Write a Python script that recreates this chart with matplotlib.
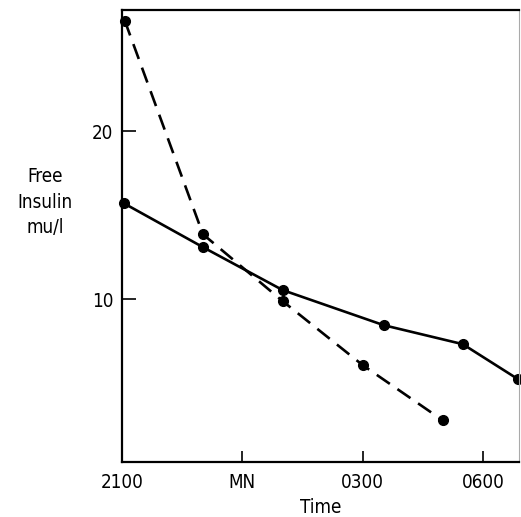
import matplotlib
matplotlib.use("Agg")
import matplotlib.pyplot as plt

# hours after 2100 and free insulin (mu/l)
dashed_t = [0.07, 2.02, 4.01, 6.01, 8.0]
dashed_v = [26.6, 13.87, 9.88, 6.06, 2.78]
solid_t = [0.05, 2.02, 4.01, 6.53, 8.5, 9.88]
solid_v = [15.71, 13.1, 10.54, 8.45, 7.32, 5.23]

xticks = [0, 3, 6, 9]
xlabels = ["2100", "MN", "0300", "0600"]
yticks = [10, 20]

plt.rcParams['font.family'] = ['DejaVu Sans']
plt.rcParams['font.stretch'] = 'condensed'

fig = plt.figure(figsize=(5.21, 5.17), dpi=100)
ax = fig.add_axes([0.234, 0.1064, 0.762, 0.8743])

ax.plot(solid_t, solid_v, '-', color='black', lw=1.9, marker='o', ms=7, clip_on=False)
ax.plot(dashed_t, dashed_v, '--', color='black', lw=1.9, marker='o', ms=7,
        dashes=(6, 3.5), clip_on=False)

ax.set_xlim(0, 9.9)
ax.set_ylim(0.3, 27.23)
ax.set_xticks(xticks)
ax.set_xticklabels(xlabels)
ax.set_yticks(yticks)
ax.tick_params(direction='in', length=10, width=1.2, labelsize=13.5, pad=6)
ax.tick_params(axis='x', length=8, pad=8)

for s in ['left', 'bottom', 'top']:
    ax.spines[s].set_linewidth(1.6)
ax.spines['right'].set_color('#aaaaaa')
ax.spines['right'].set_linewidth(0.8)

fig.text(0.086, 0.609, "Free\nInsulin\nmu/l", ha='center', va='center',
         fontsize=13.5, linespacing=1.45)
ax.set_xlabel("Time", fontsize=13.5, labelpad=4)

fig.savefig("out.png", dpi=100)
